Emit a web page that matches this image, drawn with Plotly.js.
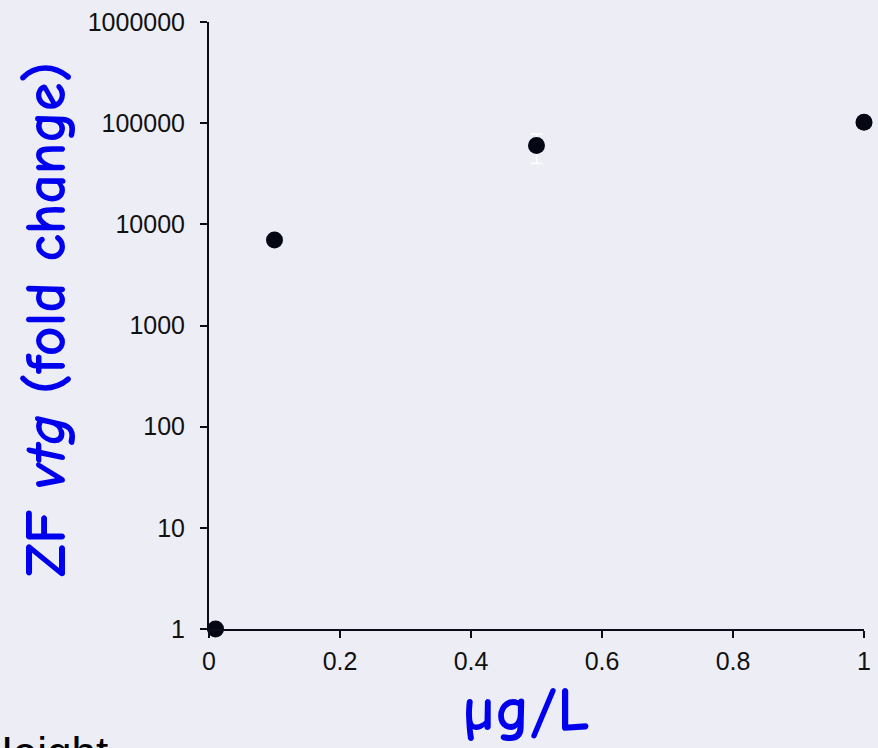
<!DOCTYPE html>
<html>
<head>
<meta charset="utf-8">
<script src="https://cdn.plot.ly/plotly-3.0.1.min.js"></script>
<style>html,body{margin:0;padding:0;background:#edeef5;}#chart{width:878px;height:748px;}</style>
</head>
<body>
<div id="chart"></div>
<script>
const concentrations = [0.01, 0.1, 0.5, 1];
const foldChange = [1, 7000, 60000, 102000];
const errUpper = [0, 0, 18000, 0];
const errLower = [0, 0, 20000, 0];
const yTickVals = [1, 10, 100, 1000, 10000, 100000, 1000000];
const yTickText = ["1", "10", "100", "1000", "10000", "100000", "1000000"];
const xTickVals = [0, 0.2, 0.4, 0.6, 0.8, 1];
const xTickText = ["0", "0.2", "0.4", "0.6", "0.8", "1"];

const bg = "#edeef5";
const handFont = "'Comic Sans MS', 'Comic Neue', 'DejaVu Sans', cursive";

const trace = {
  x: concentrations,
  y: foldChange,
  type: "scatter",
  mode: "markers",
  marker: {color: "#050814", size: 17},
  error_y: {type: "data", symmetric: false, array: errUpper, arrayminus: errLower,
            color: "#ffffff", thickness: 1.5, width: 6},
  cliponaxis: false,
  showlegend: false
};

const layout = {
  width: 878, height: 748,
  margin: {l: 209, r: 14, t: 22, b: 119},
  paper_bgcolor: bg, plot_bgcolor: bg,
  font: {family: "'Liberation Sans', Arial, sans-serif", color: "#111111", size: 25},
  xaxis: {
    range: [0, 1], tickvals: xTickVals, ticktext: xTickText,
    showgrid: false, zeroline: false, showline: true, linecolor: "#0a0d18", linewidth: 2,
    ticks: "outside", ticklen: 7, tickwidth: 2, tickcolor: "#0a0d18",
    ticklabelstandoff: 2,
    tickfont: {size: 25, color: "#111111"}
  },
  yaxis: {
    type: "log", range: [0, 6], tickvals: yTickVals, ticktext: yTickText,
    showgrid: false, zeroline: false, showline: true, linecolor: "#0a0d18", linewidth: 2,
    ticks: "outside", ticklen: 7, tickwidth: 2, tickcolor: "#0a0d18",
    ticklabelstandoff: 10,
    tickfont: {size: 25, color: "#111111"}
  },
  annotations: [
    {text: "<b>ZF <i>vtg</i> (fold change)</b>", xref: "paper", yref: "paper",
     x: (46 - 209) / 655, y: (629 - 320) / 607, xanchor: "center", yanchor: "middle",
     textangle: -90, showarrow: false, font: {family: handFont, size: 58, color: "#0000ef"}},
    {text: "<b>µg/L</b>", xref: "paper", yref: "paper",
     x: (526 - 209) / 655, y: (629 - 709) / 607, xanchor: "center", yanchor: "middle",
     showarrow: false, font: {family: handFont, size: 63, color: "#0000ef"}},
    {text: "Height", xref: "paper", yref: "paper",
     x: (-21 - 209) / 655, y: (629 - 726) / 607, xanchor: "left", yanchor: "top",
     showarrow: false, font: {family: "'Liberation Sans', Arial, sans-serif", size: 44, color: "#000000"}}
  ]
};

Plotly.newPlot("chart", [trace], layout, {displayModeBar: false, staticPlot: true});
</script>
</body>
</html>
